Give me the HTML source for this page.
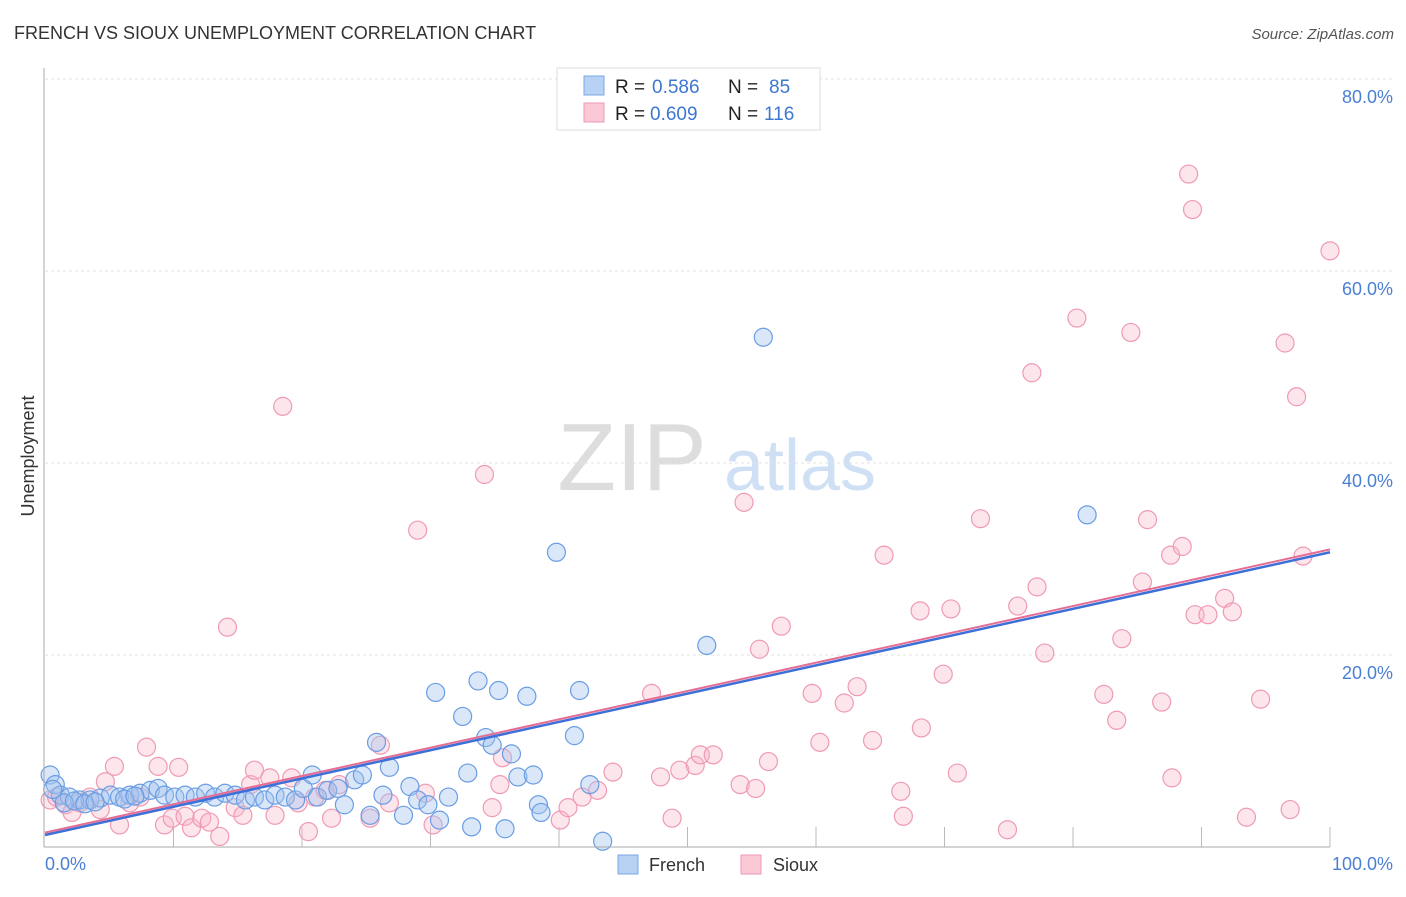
<!DOCTYPE html>
<html><head><meta charset="utf-8"><style>
body{margin:0;background:#fff;font-family:"Liberation Sans",sans-serif;}
svg text{font-family:"Liberation Sans",sans-serif;}
</style></head><body>
<svg id="chart" width="1406" height="892" xmlns="http://www.w3.org/2000/svg">
<text x="14" y="39" font-size="18" fill="#333">FRENCH VS SIOUX UNEMPLOYMENT CORRELATION CHART</text>
<text x="1394" y="39" font-size="15" fill="#555" font-style="italic" text-anchor="end">Source: ZipAtlas.com</text>
<text x="632" y="490" font-size="96" fill="#ddd" font-family="Liberation Serif" text-anchor="middle">ZIP</text>
<text x="800" y="490" font-size="72" fill="#cfe0f5" text-anchor="middle">atlas</text>
<text transform="translate(34,456) rotate(-90)" font-size="18" fill="#333" text-anchor="middle">Unemployment</text>
<g id="grid"></g><g id="pts"></g><g id="lines"></g>
<line x1="44" y1="68" x2="44" y2="847" stroke="#aaa"/>
<line x1="44" y1="847" x2="1330" y2="847" stroke="#aaa"/>
<text x="45" y="870" font-size="18" fill="#4a7fd4">0.0%</text>
<text x="1393" y="870" font-size="18" fill="#4a7fd4" text-anchor="end">100.0%</text>
<g>
<rect x="557" y="68" width="263" height="62" fill="#fff" stroke="#ddd"/>
<rect x="584" y="76" width="20" height="19" fill="#b7d2f5" stroke="#7aa7e6"/>
<rect x="584" y="103" width="20" height="19" fill="#fbc8d6" stroke="#ee9ab2"/>
<text x="615" y="93" font-size="19" fill="#222">R =</text><text x="652" y="93" font-size="19" fill="#3d77d0">0.586</text>
<text x="728" y="93" font-size="19" fill="#222">N =</text><text x="769" y="93" font-size="19" fill="#3d77d0">85</text>
<text x="615" y="120" font-size="19" fill="#222">R =</text><text x="650" y="120" font-size="19" fill="#3d77d0">0.609</text>
<text x="728" y="120" font-size="19" fill="#222">N =</text><text x="764" y="120" font-size="19" fill="#3d77d0">116</text>
</g>
<g><rect x="618" y="855" width="20" height="19" fill="#b7d2f5" stroke="#7aa7e6"/><text x="649" y="871" font-size="18" fill="#333">French</text></g>
<g><rect x="741" y="855" width="20" height="19" fill="#fbc8d6" stroke="#ee9ab2"/><text x="773" y="871" font-size="18" fill="#333">Sioux</text></g>
</svg>
<script>
const yTicks=[20,40,60,80];
const yTickLabels=["20.0%","40.0%","60.0%","80.0%"];
const xTicks=[10,20,30,40,50,60,70,80,90,100];
const frenchX=[0.4,0.8,1.2,1.9,2.7,3.5,4.3,5.1,5.8,6.6,7.4,8.2,8.8,9.3,10.1,10.9,11.7,12.5,13.2,14.0,14.8,15.6,16.3,17.1,17.9,18.7,19.5,20.1,20.8,21.2,22.0,22.8,23.3,24.1,24.7,25.3,25.8,26.3,26.8,27.9,28.4,29.0,29.8,30.7,31.4,30.4,32.5,32.9,33.2,33.7,34.3,34.8,35.3,35.8,36.3,36.8,37.5,38.0,38.4,38.6,39.8,41.2,41.6,42.4,43.4,51.5,55.9,81.1,1.5,2.3,3.1,3.9,0.6,6.2,7.0];
const frenchY=[7.5,6.5,5.4,5.2,4.9,4.9,5.1,5.4,5.2,5.4,5.6,5.9,6.1,5.4,5.2,5.4,5.2,5.6,5.2,5.6,5.4,4.9,5.2,4.9,5.4,5.2,4.9,6.1,7.5,5.2,5.9,6.1,4.4,7.0,7.5,3.3,10.9,5.4,8.3,3.3,6.3,4.9,4.4,2.8,5.2,16.1,13.6,7.7,2.1,17.3,11.4,10.6,16.3,1.9,9.7,7.3,15.7,7.5,4.4,3.6,30.7,11.6,16.3,6.5,0.6,21.0,53.1,34.6,4.6,4.8,4.5,4.7,6.0,5.0,5.3];
const siouxX=[0.4,0.9,1.6,2.1,2.7,3.5,4.3,4.7,5.4,5.8,6.6,7.4,7.9,8.8,9.3,9.9,10.4,10.9,11.4,12.2,12.8,13.6,14.2,14.8,15.4,16.0,16.3,17.5,17.9,18.5,19.2,19.7,20.5,21.0,21.8,22.3,22.9,25.3,26.1,26.8,29.0,29.6,30.2,34.2,34.8,35.4,35.6,40.1,40.7,41.8,43.0,44.2,47.2,47.9,48.8,49.4,50.6,51.0,52.0,54.1,54.4,55.3,55.6,56.3,57.3,59.7,60.3,62.2,63.2,64.4,65.3,66.6,66.8,68.1,68.2,69.9,70.5,71.0,72.8,74.9,75.7,76.8,77.2,77.8,80.3,82.4,83.4,83.8,84.5,85.4,85.8,86.9,87.6,87.7,88.5,89.0,89.3,89.5,90.5,91.8,92.4,93.5,94.6,96.5,96.9,97.4,97.9,100];
const siouxY=[4.9,5.2,4.4,3.6,4.6,5.2,3.9,6.8,8.4,2.3,4.6,5.2,10.4,8.4,2.3,3.0,8.3,3.2,2.0,3.0,2.6,1.1,22.9,4.1,3.3,6.5,8.0,7.2,3.3,45.9,7.2,4.6,1.6,5.2,5.9,3.0,6.5,3.0,10.6,4.6,33.0,5.6,2.3,38.8,4.1,6.5,9.3,2.8,4.1,5.2,5.9,7.8,16.0,7.3,3.0,8.0,8.5,9.6,9.6,6.5,35.9,6.1,20.6,8.9,23.0,16.0,10.9,15.0,16.7,11.1,30.4,5.8,3.2,24.6,12.4,18.0,24.8,7.7,34.2,1.8,25.1,49.4,27.1,20.2,55.1,15.9,13.2,21.7,53.6,27.6,34.1,15.1,30.4,7.2,31.3,70.1,66.4,24.2,24.2,25.9,24.5,3.1,15.4,52.5,3.9,46.9,30.3,62.1];
const trendFrench=[1.25,30.7];
const trendSioux=[1.5,31.0];
const NS="http://www.w3.org/2000/svg";
const X=v=>45+v*12.85, Y=v=>847-v*9.6;
function mk(tag,attrs,parent){const e=document.createElementNS(NS,tag);for(const k in attrs)e.setAttribute(k,attrs[k]);parent.appendChild(e);return e;}
const grid=document.getElementById('grid');
yTicks.forEach((t,i)=>{
  const l=mk('line',{x1:45,x2:1394,y1:Y(t),y2:Y(t),stroke:'#e2e2e2','stroke-width':1,'stroke-dasharray':'3,3'},grid);
  
  
  const tx=mk('text',{x:1393,y:Y(t)+24,'font-size':18,fill:'#4a7fd4','text-anchor':'end'},grid);
  tx.textContent=yTickLabels[i];
  
  
});
xTicks.forEach(t=>{
  const l=mk('line',{x1:X(t),x2:X(t),y1:827,y2:847,stroke:'#bbb'},grid);
  
  
});
const pts=document.getElementById('pts');
siouxX.forEach((v,i)=>{
  const c=mk('circle',{cx:X(v),cy:Y(siouxY[i]),r:9,fill:'rgba(248,180,200,0.35)',stroke:'#ef9ab3','stroke-width':1.2},pts);
  
  
});
frenchX.forEach((v,i)=>{
  const c=mk('circle',{cx:X(v),cy:Y(frenchY[i]),r:9,fill:'rgba(160,195,240,0.4)',stroke:'#6a9de3','stroke-width':1.2},pts);
  
  
});
const lines=document.getElementById('lines');
const lf=mk('line',{x1:X(0),y1:Y(trendFrench[0]),x2:X(100),y2:Y(trendFrench[1]),stroke:'#3d6fd8','stroke-width':2.5},lines);


const ls=mk('line',{x1:X(0),y1:Y(trendSioux[0]),x2:X(100),y2:Y(trendSioux[1]),stroke:'#e56d93','stroke-width':2},lines);


</script>
</body></html>
